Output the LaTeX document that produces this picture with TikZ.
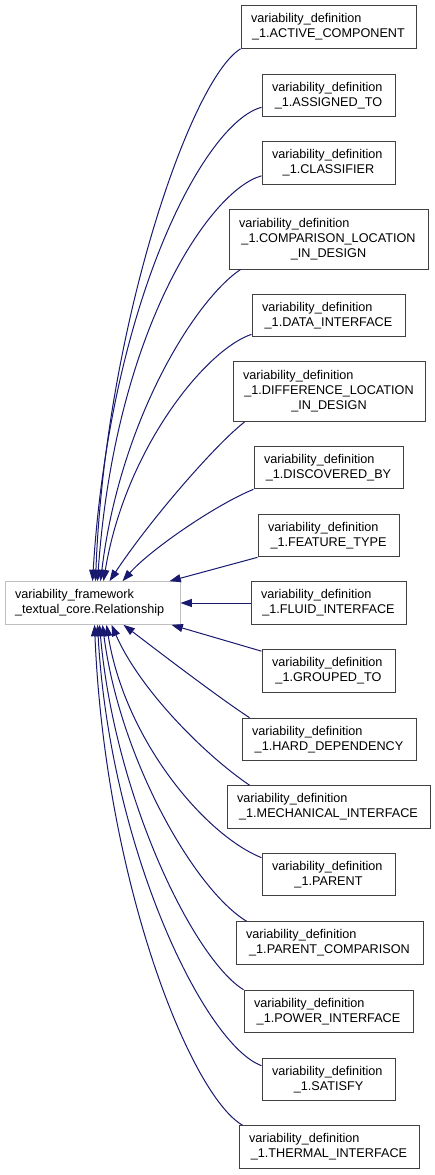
\documentclass[tikz,border=0pt]{standalone}
\usepackage{fontspec}
\setmainfont{Liberation Sans}
\usetikzlibrary{arrows.meta,calc}
\definecolor{edgeblue}{RGB}{25,25,112}
\definecolor{boxgray}{RGB}{64,64,64}
\definecolor{srcgray}{RGB}{191,191,191}
\newcommand{\fl}[1]{#1\hfill\null}
\begin{document}
\begin{tikzpicture}[x=0.75pt,y=-0.75pt,
  tbox/.style={draw=boxgray, line width=0.75pt, fill=white,
    font=\fontsize{9.5}{11.25}\selectfont, align=center,
    inner xsep=7.5pt, inner ysep=0pt, minimum height=32pt},
  tall/.style={minimum height=45pt},
  edge/.style={draw=edgeblue, line width=0.75pt,
    -{Triangle[length=8.5pt,width=6pt,fill=edgeblue]}}
]
\useasboundingbox (0,0) rectangle (435,1175);
\fill[white] (0,0) rectangle (435,1175);

\node[tbox, draw=srcgray, align=left, text width=116.25pt] (src) at (92.5,603)
  {\fl{variability\_framework}\\\fl{\_textual\_core.Relationship}};

\node[tbox, text width=116.25pt] (n1) at (328.5,27) {\fl{variability\_definition}\\\_1.ACTIVE\_COMPONENT};
\node[tbox, text width=84.75pt] (n2) at (328.5,95.5) {\fl{variability\_definition}\\\_1.ASSIGNED\_TO};
\node[tbox, text width=84.75pt] (n3) at (328.5,163) {\fl{variability\_definition}\\\_1.CLASSIFIER};
\node[tbox, tall, text width=134.25pt] (n4) at (328.5,239) {\fl{variability\_definition}\\\_1.COMPARISON\_LOCATION\\\_IN\_DESIGN};
\node[tbox, text width=99.75pt] (n5) at (328.5,315.5) {\fl{variability\_definition}\\\_1.DATA\_INTERFACE};
\node[tbox, tall, text width=129pt] (n6) at (329,391.5) {\fl{variability\_definition}\\\_1.DIFFERENCE\_LOCATION\\\_IN\_DESIGN};
\node[tbox, text width=96.75pt] (n7) at (328.5,467.5) {\fl{variability\_definition}\\\_1.DISCOVERED\_BY};
\node[tbox, text width=90.75pt] (n8) at (328.5,535.5) {\fl{variability\_definition}\\\_1.FEATURE\_TYPE};
\node[tbox, text width=101.25pt] (n9) at (328.5,603) {\fl{variability\_definition}\\\_1.FLUID\_INTERFACE};
\node[tbox, text width=84.75pt] (n10) at (328.5,671) {\fl{variability\_definition}\\\_1.GROUPED\_TO};
\node[tbox, text width=115.5pt] (n11) at (329,739.5) {\fl{variability\_definition}\\\_1.HARD\_DEPENDENCY};
\node[tbox, text width=137.25pt] (n12) at (328.5,807) {\fl{variability\_definition}\\\_1.MECHANICAL\_INTERFACE};
\node[tbox, text width=84.75pt] (n13) at (328.5,874.5) {\fl{variability\_definition}\\\_1.PARENT};
\node[tbox, text width=125.25pt] (n14) at (329.5,943) {\fl{variability\_definition}\\\_1.PARENT\_COMPARISON};
\node[tbox, text width=111.75pt] (n15) at (328.5,1011.5) {\fl{variability\_definition}\\\_1.POWER\_INTERFACE};
\node[tbox, text width=84.75pt] (n16) at (328.5,1079.5) {\fl{variability\_definition}\\\_1.SATISFY};
\node[tbox, text width=120pt] (n17) at (329,1147) {\fl{variability\_definition}\\\_1.THERMAL\_INTERFACE};

% upper edges
\draw[edge] (n1.south west) .. controls (190,80) and (105,330) .. ($(src.north west)+(91,0)$);
\draw[edge] ($(n2.south west)+(0,-10)$) .. controls (205,122) and (110,300) .. ($(src.north west)+(88,0)$);
\draw[edge] ($(n3.south west)+(0,-9)$) .. controls (210,190) and (115,330) .. ($(src.north west)+(93,0)$);
\draw[edge] ($(n4.south west)+(12,0)$) .. controls (195,300) and (120,420) .. ($(src.north west)+(96,0)$);
\draw[edge] ($(n5.south west)+(0,-3)$) .. controls (205,350) and (125,450) .. ($(src.north west)+(99,0)$);
\draw[edge] ($(n6.south west)+(12,0)$) .. controls (215,445) and (150,520) .. ($(src.north west)+(105,0)$);
\draw[edge] (n7.south west) .. controls (215,505) and (150,550) .. ($(src.north west)+(118,0)$);
\draw[edge] (n8.south west) -- ($(src.north west)+(165,0)$);
\draw[edge] (n9.west) -- (src.east);
% lower edges
\draw[edge] ($(n10.north west)+(0,2)$) -- ($(src.south west)+(167,0)$);
\draw[edge] ($(n11.north west)+(8,0)$) .. controls (215,695) and (150,645) .. ($(src.south west)+(119,0)$);
\draw[edge] ($(n12.north west)+(23,0)$) .. controls (205,755) and (140,690) .. ($(src.south west)+(107,0)$);
\draw[edge] ($(n13.north west)+(0,5)$) .. controls (205,835) and (125,740) .. ($(src.south west)+(102,0)$);
\draw[edge] ($(n14.north west)+(11,0)$) .. controls (195,890) and (120,760) .. ($(src.south west)+(98,0)$);
\draw[edge] (n15.north west) .. controls (195,960) and (115,800) .. ($(src.south west)+(95,0)$);
\draw[edge] ($(n16.north west)+(0,8)$) .. controls (205,1045) and (110,850) .. ($(src.south west)+(93,0)$);
\draw[edge] ($(n17.north west)+(4,0)$) .. controls (190,1095) and (105,880) .. ($(src.south west)+(90,0)$);
\end{tikzpicture}
\end{document}
